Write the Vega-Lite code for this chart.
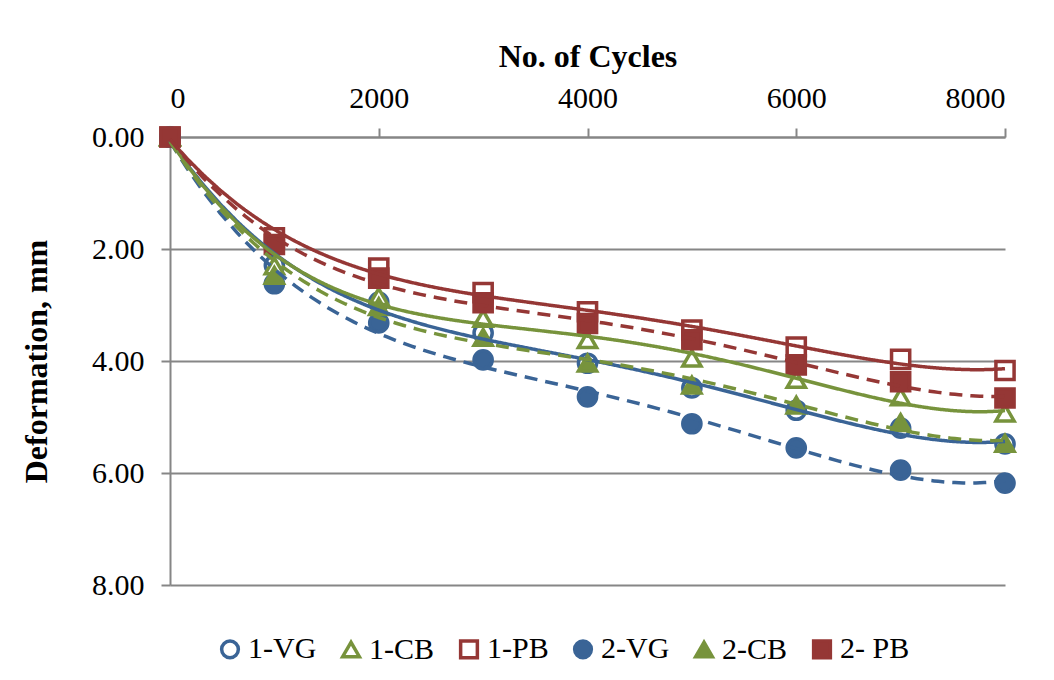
{
  "$schema": "https://vega.github.io/schema/vega-lite/v6.json",
  "width": 835,
  "height": 448,
  "autosize": "none",
  "padding": {"left": 170, "top": 137, "right": 49, "bottom": 95},
  "background": "white",
  "config": {
    "view": {"stroke": null},
    "font": "Liberation Serif",
    "axis": {
      "labelFont": "Liberation Serif",
      "titleFont": "Liberation Serif",
      "labelFontSize": 30,
      "titleFontSize": 32,
      "labelColor": "black",
      "titleColor": "black",
      "domainColor": "#868686",
      "domainWidth": 2,
      "tickColor": "#868686",
      "tickWidth": 2,
      "tickSize": 9,
      "gridColor": "#868686",
      "gridWidth": 2
    },
    "legend": {
      "labelFont": "Liberation Serif",
      "labelFontSize": 30,
      "labelColor": "black",
      "symbolStrokeWidth": 3.5,
      "symbolSize": 280
    }
  },
  "data": {
    "values": [
      {"series": "1-VG", "set": "1", "cycles": 0, "def": 0},
      {"series": "1-VG", "set": "1", "cycles": 1000, "def": 2.29},
      {"series": "1-VG", "set": "1", "cycles": 2000, "def": 2.95},
      {"series": "1-VG", "set": "1", "cycles": 3000, "def": 3.5},
      {"series": "1-VG", "set": "1", "cycles": 4000, "def": 4.04},
      {"series": "1-VG", "set": "1", "cycles": 5000, "def": 4.48},
      {"series": "1-VG", "set": "1", "cycles": 6000, "def": 4.88},
      {"series": "1-VG", "set": "1", "cycles": 7000, "def": 5.2},
      {"series": "1-VG", "set": "1", "cycles": 8000, "def": 5.48},
      {"series": "1-CB", "set": "1", "cycles": 0, "def": 0},
      {"series": "1-CB", "set": "1", "cycles": 1000, "def": 2.3},
      {"series": "1-CB", "set": "1", "cycles": 2000, "def": 2.85},
      {"series": "1-CB", "set": "1", "cycles": 3000, "def": 3.24},
      {"series": "1-CB", "set": "1", "cycles": 4000, "def": 3.62},
      {"series": "1-CB", "set": "1", "cycles": 5000, "def": 3.95},
      {"series": "1-CB", "set": "1", "cycles": 6000, "def": 4.33},
      {"series": "1-CB", "set": "1", "cycles": 7000, "def": 4.64},
      {"series": "1-CB", "set": "1", "cycles": 8000, "def": 4.93},
      {"series": "1-PB", "set": "1", "cycles": 0, "def": 0},
      {"series": "1-PB", "set": "1", "cycles": 1000, "def": 1.8},
      {"series": "1-PB", "set": "1", "cycles": 2000, "def": 2.34},
      {"series": "1-PB", "set": "1", "cycles": 3000, "def": 2.78},
      {"series": "1-PB", "set": "1", "cycles": 4000, "def": 3.12},
      {"series": "1-PB", "set": "1", "cycles": 5000, "def": 3.45},
      {"series": "1-PB", "set": "1", "cycles": 6000, "def": 3.75},
      {"series": "1-PB", "set": "1", "cycles": 7000, "def": 3.97},
      {"series": "1-PB", "set": "1", "cycles": 8000, "def": 4.17},
      {"series": "2-VG", "set": "2", "cycles": 0, "def": 0},
      {"series": "2-VG", "set": "2", "cycles": 1000, "def": 2.62},
      {"series": "2-VG", "set": "2", "cycles": 2000, "def": 3.32},
      {"series": "2-VG", "set": "2", "cycles": 3000, "def": 3.98},
      {"series": "2-VG", "set": "2", "cycles": 4000, "def": 4.64},
      {"series": "2-VG", "set": "2", "cycles": 5000, "def": 5.12},
      {"series": "2-VG", "set": "2", "cycles": 6000, "def": 5.55},
      {"series": "2-VG", "set": "2", "cycles": 7000, "def": 5.95},
      {"series": "2-VG", "set": "2", "cycles": 8000, "def": 6.18},
      {"series": "2-CB", "set": "2", "cycles": 0, "def": 0},
      {"series": "2-CB", "set": "2", "cycles": 1000, "def": 2.47},
      {"series": "2-CB", "set": "2", "cycles": 2000, "def": 3.03},
      {"series": "2-CB", "set": "2", "cycles": 3000, "def": 3.58},
      {"series": "2-CB", "set": "2", "cycles": 4000, "def": 4.04},
      {"series": "2-CB", "set": "2", "cycles": 5000, "def": 4.43},
      {"series": "2-CB", "set": "2", "cycles": 6000, "def": 4.79},
      {"series": "2-CB", "set": "2", "cycles": 7000, "def": 5.1},
      {"series": "2-CB", "set": "2", "cycles": 8000, "def": 5.47},
      {"series": "2-PB", "set": "2", "cycles": 0, "def": 0},
      {"series": "2-PB", "set": "2", "cycles": 1000, "def": 1.92},
      {"series": "2-PB", "set": "2", "cycles": 2000, "def": 2.52},
      {"series": "2-PB", "set": "2", "cycles": 3000, "def": 2.96},
      {"series": "2-PB", "set": "2", "cycles": 4000, "def": 3.33},
      {"series": "2-PB", "set": "2", "cycles": 5000, "def": 3.62},
      {"series": "2-PB", "set": "2", "cycles": 6000, "def": 4.07},
      {"series": "2-PB", "set": "2", "cycles": 7000, "def": 4.37},
      {"series": "2-PB", "set": "2", "cycles": 8000, "def": 4.66}
    ]
  },
  "encoding": {
    "x": {
      "field": "cycles", "type": "quantitative",
      "scale": {"domain": [0, 8000], "nice": false, "zero": false},
      "axis": {
        "orient": "top", "values": [0, 2000, 4000, 6000, 8000], "format": "d",
        "grid": false, "title": "No. of Cycles", "titleFontWeight": "bold",
        "labelPadding": 15, "titlePadding": 10
      }
    },
    "y": {
      "field": "def", "type": "quantitative",
      "scale": {"domain": [0, 8], "reverse": true, "nice": false},
      "axis": {
        "values": [0, 2, 4, 6, 8], "format": ".2f", "grid": true,
        "title": "Deformation, mm", "titleFontWeight": "bold",
        "labelPadding": 17, "titlePadding": 38
      }
    }
  },
  "layer": [
    {
      "mark": {"type": "point", "filled": false, "strokeWidth": 3.5, "size": 330, "opacity": 1},
      "encoding": {
        "shape": {
          "field": "series", "type": "nominal",
          "scale": {"domain": ["1-VG", "1-CB", "1-PB", "2-VG", "2-CB", "2-PB"],
                    "range": ["circle", "triangle-up", "square", "circle", "triangle-up", "square"]},
          "legend": {"title": null, "orient": "none", "legendX": 45, "legendY": 497, "direction": "horizontal", "columns": 6, "columnPadding": 18, "labelOffset": 3, "labelExpr": "datum.label == '2-PB' ? '2- PB' : datum.label"}
        },
        "stroke": {
          "field": "series", "type": "nominal",
          "scale": {"domain": ["1-VG", "1-CB", "1-PB", "2-VG", "2-CB", "2-PB"],
                    "range": ["#3A6496", "#77933C", "#953735", "#3A6496", "#77933C", "#953735"]},
          "legend": {"title": null, "orient": "none", "legendX": 45, "legendY": 497, "direction": "horizontal", "columns": 6, "columnPadding": 18, "labelOffset": 3, "labelExpr": "datum.label == '2-PB' ? '2- PB' : datum.label"}
        },
        "fill": {
          "field": "series", "type": "nominal",
          "scale": {"domain": ["1-VG", "1-CB", "1-PB", "2-VG", "2-CB", "2-PB"],
                    "range": ["white", "white", "white", "#3A6496", "#77933C", "#953735"]},
          "legend": {"title": null, "orient": "none", "legendX": 45, "legendY": 497, "direction": "horizontal", "columns": 6, "columnPadding": 18, "labelOffset": 3, "labelExpr": "datum.label == '2-PB' ? '2- PB' : datum.label"}
        }
      }
    },
    {
      "transform": [
        {"regression": "def", "on": "cycles", "groupby": ["series", "set"], "method": "poly", "order": 4, "extent": [0, 8000]}
      ],
      "mark": {"type": "line", "strokeWidth": 3.5},
      "encoding": {
        "color": {
          "field": "series", "type": "nominal",
          "scale": {"domain": ["1-VG", "1-CB", "1-PB", "2-VG", "2-CB", "2-PB"],
                    "range": ["#3A6496", "#77933C", "#953735", "#3A6496", "#77933C", "#953735"]},
          "legend": null
        },
        "strokeDash": {
          "field": "set", "type": "nominal",
          "scale": {"domain": ["1", "2"], "range": [[1, 0], [13, 8]]},
          "legend": null
        },
        "detail": {"field": "series"}
      }
    }
  ]
}
